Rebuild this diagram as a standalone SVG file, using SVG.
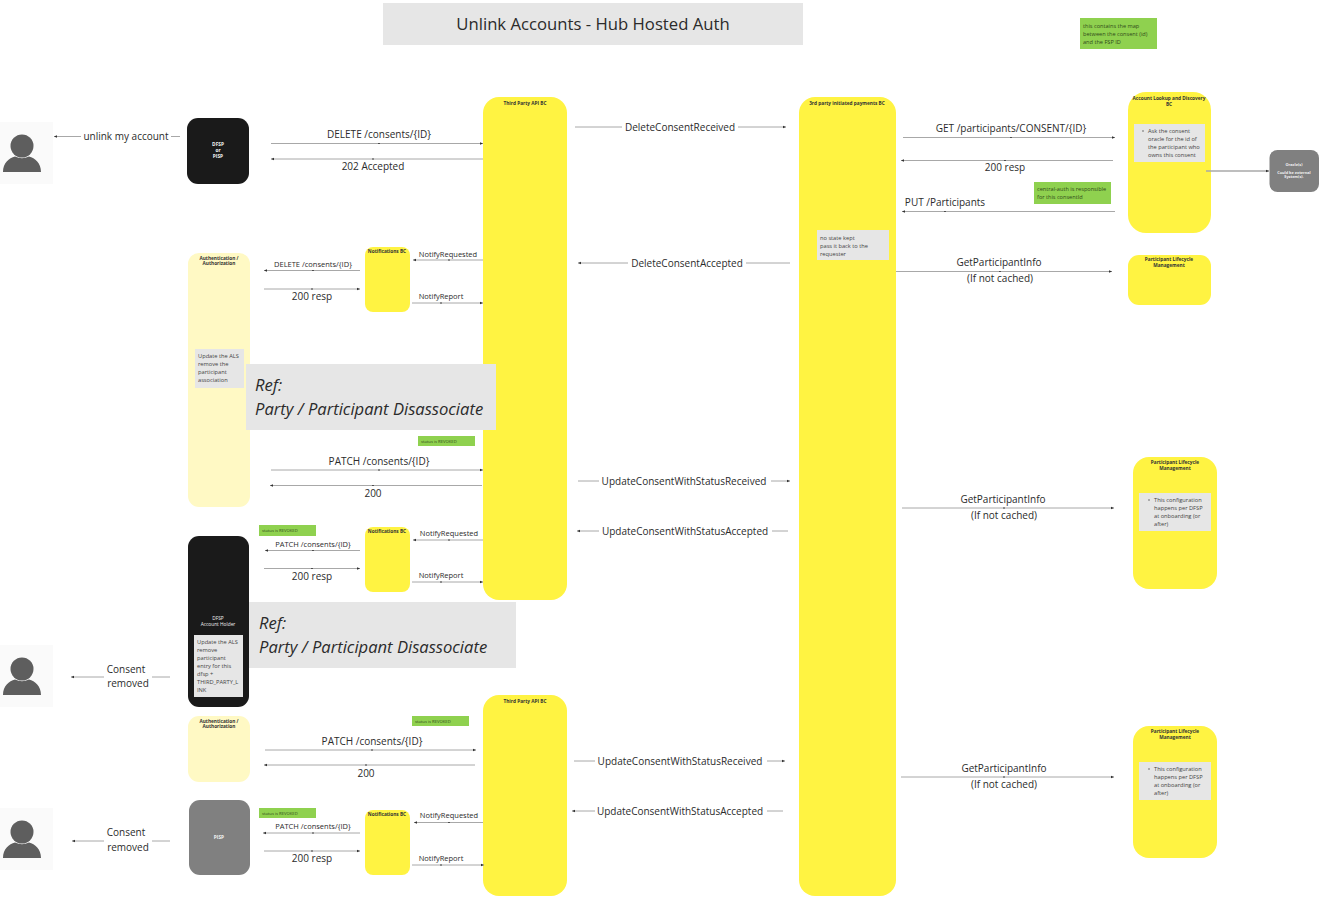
<svg xmlns="http://www.w3.org/2000/svg" width="1319" height="899" viewBox="0 0 1319 899">
<style>
text{font-family:"Open Sans","Noto Sans","DejaVu Sans",sans-serif;fill:#2b2b2b;text-anchor:middle}
.y{fill:#fff342}.c{fill:#fff9c4}.k{fill:#1a1a1a}.g{fill:#808080}.n{fill:#e6e6e6}.gr{fill:#8fd14f}
.h{font-size:4.750px;font-weight:700;fill:#333}
.w{font-size:4.800px;font-weight:700;fill:#f2f2f2}
.l{font-size:10px}.s{font-size:7.500px}.t{font-size:5.700px;text-anchor:start;fill:#444}
.r{font-size:16.600px;font-style:italic;text-anchor:start}
.sg{font-size:4.200px;text-anchor:start;fill:#2f4a1a}
.sb{font-size:5.600px;text-anchor:start;fill:#2f4a1a}
.c1{fill:none;stroke:#a8a8a8;stroke-width:1;marker-end:url(#a);marker-mid:url(#d)}
.bg{fill:#fff}
</style>
<defs>
<marker id="a" viewBox="0 0 6 6" refX="6" refY="3" markerWidth="3.400" markerHeight="3.400" markerUnits="userSpaceOnUse" orient="auto"><path d="M0 0.500L6 3L0 5.500z" fill="#333"/></marker>
<marker id="d" viewBox="0 0 2 2" refX="1" refY="1" markerWidth="1.600" markerHeight="1.600" markerUnits="userSpaceOnUse"><circle cx="1" cy="1" r="1" fill="#333"/></marker>
<g id="person-icon"><rect x="0" y="0" width="53" height="62" fill="#fafafa"/><circle cx="22" cy="24" r="11.500" fill="#5e5e5e"/><path d="M3 50C3 41 9 36 15 34.500Q22 38 29 34.500C35 36 41 41 41 50z" fill="#5e5e5e"/></g>
</defs>

<g id="title"><rect class="n" x="383" y="3" width="420" height="42"/><text x="593" y="30" font-size="16.700">Unlink Accounts - Hub Hosted Auth</text></g>
<g id="note-map"><rect class="gr" x="1080" y="18" width="77" height="31"/><text class="sb" x="1083" y="28">this contains the map</text><text class="sb" x="1083" y="36">between the consent (id)</text><text class="sb" x="1083" y="44">and the FSP ID</text></g>

<g id="user-1"><use href="#person-icon" x="0" y="122"/></g>
<g id="user-2"><use href="#person-icon" x="0" y="645"/></g>
<g id="user-3"><use href="#person-icon" x="0" y="808"/></g>

<g id="dfsp-pisp"><rect class="k" x="187" y="118" width="62" height="66" rx="11"/><text class="w" x="218" y="146">DFSP</text><text class="w" x="218" y="152">or</text><text class="w" x="218" y="158">PISP</text></g>

<g id="third-party-1"><rect class="y" x="483" y="97" width="84" height="503" rx="16"/><text class="h" x="525" y="105">Third Party API BC</text></g>
<g id="third-party-2"><rect class="y" x="483" y="695" width="84" height="201" rx="16"/><text class="h" x="525" y="703">Third Party API BC</text></g>
<g id="payments-bc"><rect class="y" x="799" y="97" width="97" height="799" rx="16"/><text class="h" x="847" y="105">3rd party initiated payments BC</text>
<rect class="n" x="817" y="230" width="72" height="30"/><text class="t" x="820" y="239.500">no state kept</text><text class="t" x="820" y="247.500">pass it back to the</text><text class="t" x="820" y="255.500">requester</text></g>
<g id="als-bc"><rect class="y" x="1128" y="92" width="83" height="141" rx="18"/><text class="h" x="1169" y="100">Account Lookup and Discovery</text><text class="h" x="1169" y="106">BC</text>
<rect class="n" x="1134" y="124" width="71" height="38"/><circle cx="1143" cy="131" r="0.700" fill="#444"/><text class="t" x="1148" y="133">Ask the consent</text><text class="t" x="1148" y="141">oracle for the id of</text><text class="t" x="1148" y="149">the participant who</text><text class="t" x="1148" y="157">owns this consent</text></g>
<g id="oracle"><rect class="g" x="1269.500" y="150" width="49.500" height="42" rx="8"/><text class="w" style="font-size:3.800px" x="1294" y="166">Oracle(s)</text><text class="w" style="font-size:3.800px" x="1294" y="174">Could be external</text><text class="w" style="font-size:3.800px" x="1294" y="178">System(s).</text></g>
<g id="plm-1"><rect class="y" x="1128" y="255" width="83" height="50" rx="11"/><text class="h" x="1169" y="261">Participant Lifecycle</text><text class="h" x="1169" y="267">Management</text></g>
<g id="plm-2"><rect class="y" x="1133" y="457" width="84" height="132" rx="16"/><text class="h" x="1175" y="464">Participant Lifecycle</text><text class="h" x="1175" y="470">Management</text>
<rect class="n" x="1139" y="493" width="72" height="38"/><circle cx="1149" cy="500" r="0.700" fill="#444"/><text class="t" x="1154" y="501.500">This configuration</text><text class="t" x="1154" y="509.500">happens per DFSP</text><text class="t" x="1154" y="517.500">at onboarding (or</text><text class="t" x="1154" y="525.500">after)</text></g>
<g id="plm-3"><rect class="y" x="1133" y="726" width="84" height="132" rx="16"/><text class="h" x="1175" y="733">Participant Lifecycle</text><text class="h" x="1175" y="739">Management</text>
<rect class="n" x="1139" y="762" width="72" height="38"/><circle cx="1149" cy="769" r="0.700" fill="#444"/><text class="t" x="1154" y="770.500">This configuration</text><text class="t" x="1154" y="778.500">happens per DFSP</text><text class="t" x="1154" y="786.500">at onboarding (or</text><text class="t" x="1154" y="794.500">after)</text></g>

<g id="auth-1"><rect class="c" x="188" y="253" width="62" height="254" rx="11"/><text class="h" x="219" y="260">Authentication /</text><text class="h" x="219" y="265">Authorization</text>
<rect class="n" x="195" y="349" width="49" height="39"/><text class="t" x="198" y="358">Update the ALS</text><text class="t" x="198" y="366">remove the</text><text class="t" x="198" y="374">participant</text><text class="t" x="198" y="382">association</text></g>
<g id="notif-1"><rect class="y" x="365" y="247" width="45" height="65" rx="8"/><text class="h" x="387" y="253">Notifications BC</text></g>
<g id="notif-2"><rect class="y" x="365" y="527" width="45" height="65" rx="8"/><text class="h" x="387" y="533">Notifications BC</text></g>
<g id="notif-3"><rect class="y" x="365" y="810" width="45" height="65" rx="8"/><text class="h" x="387" y="816">Notifications BC</text></g>
<g id="dfsp-holder"><rect class="k" x="188" y="536" width="61" height="171" rx="11"/><text class="w" style="font-weight:400" x="218" y="620">DFSP</text><text class="w" style="font-weight:400" x="218" y="626">Account Holder</text>
<rect class="n" x="194" y="635" width="49" height="62"/><text class="t" x="197" y="643.500">Update the ALS</text><text class="t" x="197" y="651.500">remove</text><text class="t" x="197" y="659.500">participant</text><text class="t" x="197" y="667.500">entry for this</text><text class="t" x="197" y="675.500">dfsp +</text><text class="t" x="197" y="683.500">THIRD_PARTY_L</text><text class="t" x="197" y="691.500">INK</text></g>
<g id="auth-2"><rect class="c" x="188" y="716" width="62" height="66" rx="11"/><text class="h" x="219" y="722.500">Authentication /</text><text class="h" x="219" y="728">Authorization</text></g>
<g id="pisp"><rect class="g" x="189" y="800" width="61" height="75" rx="11"/><text class="w" x="219" y="839">PISP</text></g>

<g id="ref-1"><rect class="n" x="246" y="364" width="250" height="66"/><text class="r" x="255" y="391">Ref:</text><text class="r" x="255" y="415">Party / Participant Disassociate</text></g>
<g id="ref-2"><rect class="n" x="249" y="602" width="267" height="66"/><text class="r" x="259" y="629">Ref:</text><text class="r" x="259" y="653">Party / Participant Disassociate</text></g>

<g id="note-revoked-1"><rect class="gr" x="418" y="436" width="57" height="10"/><text class="sg" x="421" y="442.500">status is REVOKED</text></g>
<g id="note-revoked-2"><rect class="gr" x="259" y="525" width="57" height="11"/><text class="sg" x="262" y="532">status is REVOKED</text></g>
<g id="note-revoked-3"><rect class="gr" x="412" y="716" width="57" height="10"/><text class="sg" x="415" y="722.500">status is REVOKED</text></g>
<g id="note-revoked-4"><rect class="gr" x="259" y="808" width="57" height="10"/><text class="sg" x="262" y="814.500">status is REVOKED</text></g>
<g id="note-central"><rect class="gr" x="1034" y="182" width="77" height="22"/><text class="sb" x="1037" y="191">central-auth is responsible</text><text class="sb" x="1037" y="199">for this consentId</text></g>

<g id="connectors">
<path class="c1" d="M180 136.500H117L54 136.500"/>
<path class="c1" d="M271 143.500H379H483"/>
<path class="c1" d="M483 159H373H271"/>
<path class="c1" d="M483 260H449H413"/>
<path class="c1" d="M412 303H441H483"/>
<path class="c1" d="M360 270.500H313H264"/>
<path class="c1" d="M264 289H312H360"/>
<path class="c1" d="M575 127H680H786"/>
<path class="c1" d="M790 263H684H578"/>
<path class="c1" d="M903 137.500H1011H1115"/>
<path class="c1" d="M1113 160.500H1005H901"/>
<path class="c1" d="M1115 211.500H945H902"/>
<path class="c1" d="M896 271.500H1000H1112"/>
<path class="c1" d="M1206 171H1269" style="stroke-width:1.500"/>
<path class="c1" d="M271 470H379H483"/>
<path class="c1" d="M482 485.500H373H270"/>
<path class="c1" d="M578 481H684H790"/>
<path class="c1" d="M788 531H682H577"/>
<path class="c1" d="M902 508H1004H1114"/>
<path class="c1" d="M483 540H449H413"/>
<path class="c1" d="M412 582H441H483"/>
<path class="c1" d="M360 550.500H313H265"/>
<path class="c1" d="M264 568.500H312H360"/>
<path class="c1" d="M170 677H120H71"/>
<path class="c1" d="M265 750H372H476"/>
<path class="c1" d="M475 765H366H264"/>
<path class="c1" d="M483 822.500H449H414"/>
<path class="c1" d="M412 865H441H484"/>
<path class="c1" d="M360 833H313H263"/>
<path class="c1" d="M264 851H312H360"/>
<path class="c1" d="M574 761H680H785"/>
<path class="c1" d="M783 811H678H572"/>
<path class="c1" d="M901 777H1004H1114"/>
<path class="c1" d="M170 841H121H72"/>
<rect class="bg" x="81" y="130" width="90" height="13"/>
<rect class="bg" x="622" y="120" width="116" height="14"/>
<rect class="bg" x="628" y="256" width="118" height="14"/>
<rect class="bg" x="599" y="474" width="172" height="14"/>
<rect class="bg" x="599" y="524" width="173" height="14"/>
<rect class="bg" x="595" y="754" width="172" height="14"/>
<rect class="bg" x="595" y="804" width="172" height="14"/>
<rect class="bg" x="104" y="662" width="48" height="28"/>
<rect class="bg" x="104" y="826" width="48" height="28"/>
<text class="l" x="126" y="140">unlink my account</text>
<text class="l" x="379" y="138">DELETE /consents/{ID}</text>
<text class="l" x="373" y="170">202 Accepted</text>
<text class="s" x="448" y="256.500">NotifyRequested</text>
<text class="s" x="441" y="298.500">NotifyReport</text>
<text class="s" x="313" y="266.500">DELETE /consents/{ID}</text>
<text class="l" x="312" y="300">200 resp</text>
<text class="l" x="680" y="130.500">DeleteConsentReceived</text>
<text class="l" x="687" y="266.500">DeleteConsentAccepted</text>
<text class="l" x="1011" y="132">GET /participants/CONSENT/{ID}</text>
<text class="l" x="1005" y="171">200 resp</text>
<text class="l" x="945" y="206">PUT /Participants</text>
<text class="l" x="999" y="266">GetParticipantInfo</text>
<text class="l" x="1000" y="282">(If not cached)</text>
<text class="l" x="379" y="464.500">PATCH /consents/{ID}</text>
<text class="l" x="373" y="496.500">200</text>
<text class="l" x="684" y="484.500">UpdateConsentWithStatusReceived</text>
<text class="l" x="685" y="534.500">UpdateConsentWithStatusAccepted</text>
<text class="l" x="1003" y="502.500">GetParticipantInfo</text>
<text class="l" x="1004" y="518.500">(If not cached)</text>
<text class="s" x="449" y="535.500">NotifyRequested</text>
<text class="s" x="441" y="577.500">NotifyReport</text>
<text class="s" x="313" y="546.500">PATCH /consents/{ID}</text>
<text class="l" x="312" y="580">200 resp</text>
<text class="l" x="126" y="673">Consent</text>
<text class="l" x="128" y="687">removed</text>
<text class="l" x="372" y="744.500">PATCH /consents/{ID}</text>
<text class="l" x="366" y="776.500">200</text>
<text class="s" x="449" y="818">NotifyRequested</text>
<text class="s" x="441" y="861">NotifyReport</text>
<text class="s" x="313" y="829">PATCH /consents/{ID}</text>
<text class="l" x="312" y="862">200 resp</text>
<text class="l" x="680" y="764.500">UpdateConsentWithStatusReceived</text>
<text class="l" x="680" y="814.500">UpdateConsentWithStatusAccepted</text>
<text class="l" x="1004" y="772">GetParticipantInfo</text>
<text class="l" x="1004" y="788">(If not cached)</text>
<text class="l" x="126" y="836">Consent</text>
<text class="l" x="128" y="851">removed</text>
</g>
</svg>
